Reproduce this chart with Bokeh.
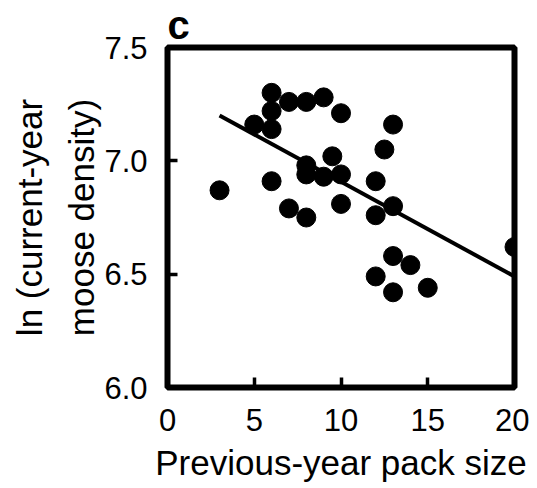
from bokeh.plotting import figure
from bokeh.models import Range1d, FixedTicker, ColumnDataSource
from bokeh.embed import file_html
from bokeh.resources import INLINE

# data
pack_size = [3, 6, 7, 8, 9, 10, 6, 5, 6, 13, 12.5, 9.5, 8, 8, 9, 10, 6, 12,
             7, 8, 10, 12, 13, 20, 13, 14, 12, 13, 15]
ln_density = [6.87, 7.30, 7.26, 7.26, 7.28, 7.21, 7.22, 7.16, 7.14, 7.16, 7.05,
              7.02, 6.98, 6.94, 6.93, 6.94, 6.91, 6.91, 6.79, 6.75, 6.81, 6.76,
              6.80, 6.62, 6.58, 6.54, 6.49, 6.42, 6.44]
fit_x = [3, 20]
fit_y = [7.20, 6.49]
x_ticks = [0, 5, 10, 15, 20]
y_ticks = [6.0, 6.5, 7.0, 7.5]

FONT = "Liberation Sans"

p = figure(frame_width=347, frame_height=340, output_backend="svg", toolbar_location=None,
           x_range=Range1d(0, 20), y_range=Range1d(6.0, 7.5),
           min_border_left=167, min_border_right=15,
           min_border_top=47, min_border_bottom=60,
           title="c")
p.title.text_font = FONT
p.title.text_font_size = "40px"
p.title.text_font_style = "bold"
p.title.text_color = "black"
p.title.align = "left"
p.title.standoff = 1
p.background_fill_color = "white"
p.border_fill_color = "white"
p.grid.visible = False
p.outline_line_color = "black"
p.outline_line_width = 6

for ax in (p.xaxis[0], p.yaxis[0]):
    ax.axis_line_color = None
    ax.major_tick_in = 10
    ax.major_tick_out = 0
    ax.major_tick_line_width = 3.5
    ax.major_tick_line_color = "black"
    ax.minor_tick_line_color = None
    ax.major_label_text_font = FONT
    ax.major_label_text_font_size = "31px"
    ax.major_label_text_color = "black"
    ax.axis_label_text_font = FONT
    ax.axis_label_text_font_size = "35px"
    ax.axis_label_text_font_style = "normal"
    ax.axis_label_text_color = "black"

p.xaxis.ticker = FixedTicker(ticks=x_ticks)
p.yaxis.ticker = FixedTicker(ticks=y_ticks)
p.yaxis.major_label_overrides = {t: f"{t:.1f}" for t in y_ticks}
p.xaxis.major_label_standoff = 21
p.yaxis.major_label_standoff = 20
p.xaxis.axis_label = "Previous-year pack size"
p.yaxis.axis_label = "ln (current-year\nmoose density)"
p.yaxis.axis_label_text_line_height = 1.35
p.xaxis.axis_label_standoff = 9
p.yaxis.axis_label_standoff = 0

src = ColumnDataSource(dict(x=pack_size, y=ln_density))
p.line(fit_x, fit_y, line_color="black", line_width=4)
p.scatter("x", "y", source=src, size=19, fill_color="black", line_color="black")

open("out.html", "w").write(file_html(p, INLINE))
